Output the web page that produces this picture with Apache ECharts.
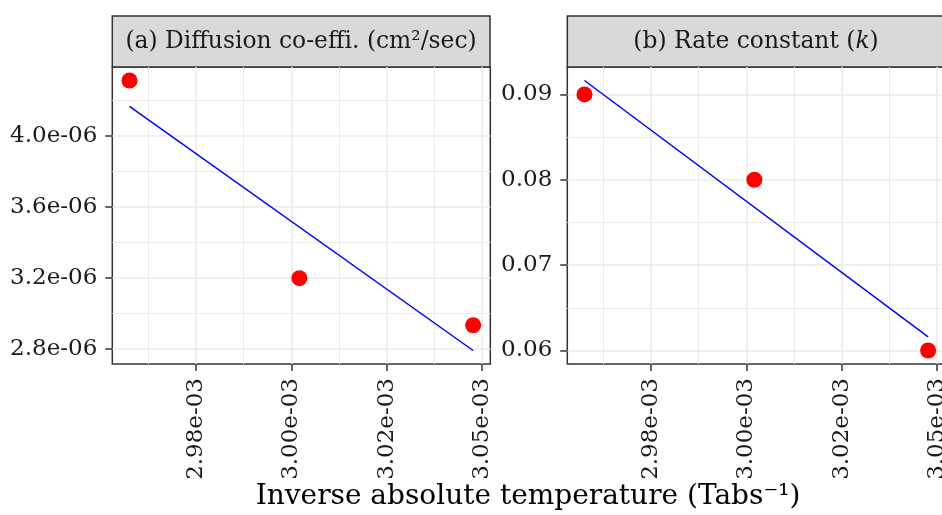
<!DOCTYPE html>
<html>
<head>
<meta charset="utf-8">
<script src="https://cdn.jsdelivr.net/npm/echarts@6/dist/echarts.min.js"></script>
<style>
  html, body { margin: 0; padding: 0; background: #fff; overflow: hidden; }
  #chart { width: 942px; height: 515px; }
</style>
</head>
<body>
<div id="chart"></div>
<script>
// inverse absolute temperature (1/K) of the three runs
const invTemp = [2.9661e-3, 3.0017e-3, 3.0381e-3];
const diffusion = [4.314e-6, 3.2e-6, 2.935e-6];
const rateK = [0.09, 0.08, 0.06];

const xTicks = [2.98e-3, 3.00e-3, 3.02e-3, 3.04e-3];
const xTickLabels = ['2.98e-03', '3.00e-03', '3.02e-03', '3.05e-03'];
const xMinor = [2.97e-3, 2.99e-3, 3.01e-3, 3.03e-3];

const yTicksA = [2.8e-6, 3.2e-6, 3.6e-6, 4.0e-6];
const yLabelsA = ['2.8e-06', '3.2e-06', '3.6e-06', '4.0e-06'];
const yMinorA = [3.0e-6, 3.4e-6, 3.8e-6, 4.2e-6];

const yTicksB = [0.06, 0.07, 0.08, 0.09];
const yLabelsB = ['0.06', '0.07', '0.08', '0.09'];
const yMinorB = [0.065, 0.075, 0.085];

const FONT = 'DejaVu Serif';

// least squares line through the points
function fit(xs, ys) {
  let n = xs.length, mx = 0, my = 0;
  for (let i = 0; i < n; i++) { mx += xs[i]; my += ys[i]; }
  mx /= n; my /= n;
  let sxy = 0, sxx = 0;
  for (let i = 0; i < n; i++) {
    sxy += (xs[i] - mx) * (ys[i] - my);
    sxx += (xs[i] - mx) * (xs[i] - mx);
  }
  const b = sxy / sxx;
  const x0 = Math.min.apply(null, xs), x1 = Math.max.apply(null, xs);
  return [[x0, my + b * (x0 - mx)], [x1, my + b * (x1 - mx)]];
}

function expand(vals) {
  const lo = Math.min.apply(null, vals), hi = Math.max.apply(null, vals);
  const d = (hi - lo) * 0.05;
  return [lo - d, hi + d];
}

const fitA = fit(invTemp, diffusion);
const fitB = fit(invTemp, rateK);
const xr = expand(invTemp);
const yrA = expand(diffusion.concat([fitA[0][1], fitA[1][1]]));
const yrB = expand(rateK.concat([fitB[0][1], fitB[1][1]]));

function labelFor(ticks, labels) {
  return function (v) {
    let best = 0;
    for (let i = 1; i < ticks.length; i++) {
      if (Math.abs(ticks[i] - v) < Math.abs(ticks[best] - v)) best = i;
    }
    return labels[best];
  };
}

const gridLine = { color: '#EBEBEB', width: 1.6 };
const gridMinor = { color: '#EBEBEB', width: 1 };

function mainAxis(idx, range, ticks, labels, isX) {
  return {
    type: 'value', gridIndex: idx, min: range[0], max: range[1],
    position: isX ? 'bottom' : 'left',
    axisLine: { show: false },
    axisTick: { show: true, customValues: ticks, length: 7, lineStyle: { color: '#333', width: 1.5 } },
    axisLabel: {
      customValues: ticks, formatter: labelFor(ticks, labels),
      rotate: isX ? 90 : 0, margin: isX ? 14 : 15,
      fontFamily: FONT, fontSize: 23, color: '#1a1a1a',
      showMinLabel: true, showMaxLabel: true
    },
    splitLine: { show: true, lineStyle: gridLine }
  };
}

function minorAxis(idx, range, minors, isX) {
  return {
    type: 'value', gridIndex: idx, min: range[0], max: range[1],
    position: isX ? 'bottom' : 'left',
    axisLine: { show: false },
    axisTick: { show: false, customValues: minors },
    axisLabel: { show: false, customValues: minors },
    splitLine: { show: true, lineStyle: gridMinor }
  };
}

const chart = echarts.init(document.getElementById('chart'));

const gridBase = { top: 67, height: 297, width: 378, show: true, borderColor: '#333', borderWidth: 1.5,
  backgroundColor: 'transparent', outerBoundsMode: 'none' };

chart.setOption({
  animation: false,
  backgroundColor: '#fff',
  grid: [
    Object.assign({ left: 112.3 }, gridBase),
    Object.assign({ left: 567.3 }, gridBase)
  ],
  xAxis: [
    minorAxis(0, xr, xMinor, true),
    mainAxis(0, xr, xTicks, xTickLabels, true),
    minorAxis(1, xr, xMinor, true),
    mainAxis(1, xr, xTicks, xTickLabels, true)
  ],
  yAxis: [
    minorAxis(0, yrA, yMinorA, false),
    mainAxis(0, yrA, yTicksA, yLabelsA, false),
    minorAxis(1, yrB, yMinorB, false),
    mainAxis(1, yrB, yTicksB, yLabelsB, false)
  ],
  series: [
    { type: 'line', xAxisIndex: 1, yAxisIndex: 1, data: fitA, showSymbol: false, z: 3,
      lineStyle: { color: '#0000FF', width: 1.5 } },
    { type: 'scatter', xAxisIndex: 1, yAxisIndex: 1, symbolSize: 16, z: 4,
      itemStyle: { color: '#FF0000', opacity: 1 },
      data: invTemp.map((x, i) => [x, diffusion[i]]) },
    { type: 'line', xAxisIndex: 3, yAxisIndex: 3, data: fitB, showSymbol: false, z: 3,
      lineStyle: { color: '#0000FF', width: 1.5 } },
    { type: 'scatter', xAxisIndex: 3, yAxisIndex: 3, symbolSize: 16, z: 4,
      itemStyle: { color: '#FF0000', opacity: 1 },
      data: invTemp.map((x, i) => [x, rateK[i]]) }
  ],
  graphic: [
    { type: 'rect', shape: { x: 112.3, y: 16, width: 377.7, height: 51 },
      style: { fill: '#D9D9D9', stroke: '#333', lineWidth: 1.5 } },
    { type: 'text', x: 301, y: 42,
      style: { text: '(a) Diffusion co-effi. (cm²/sec)', font: '23.4px "DejaVu Serif"',
        fill: '#1a1a1a', align: 'center', verticalAlign: 'middle' } },
    { type: 'rect', shape: { x: 567.3, y: 16, width: 380, height: 51 },
      style: { fill: '#D9D9D9', stroke: '#333', lineWidth: 1.5 } },
    { type: 'text', x: 756, y: 42,
      style: { text: '(b) Rate constant ({i|k})', font: '23.4px "DejaVu Serif"',
        fill: '#1a1a1a', align: 'center', verticalAlign: 'middle',
        rich: { i: { fontStyle: 'italic', fontFamily: FONT, fontSize: 23.4, fill: '#1a1a1a' } } } },
    { type: 'text', x: 528, y: 497,
      style: { text: 'Inverse absolute temperature (Tabs⁻¹)', font: '28px "DejaVu Serif"',
        fill: '#000', align: 'center', verticalAlign: 'middle' } }
  ]
});
</script>
</body>
</html>
